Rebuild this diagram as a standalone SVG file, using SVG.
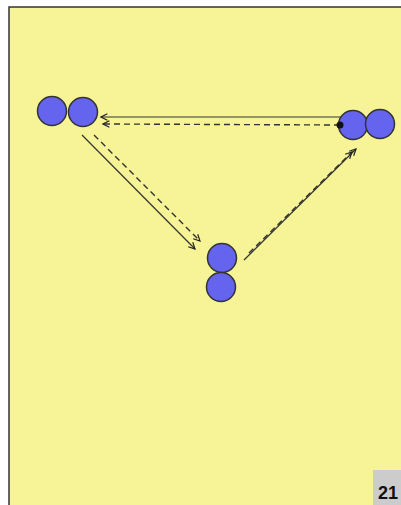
<svg xmlns="http://www.w3.org/2000/svg" width="401" height="505" viewBox="0 0 401 505">
<style>
.p{fill:#6464ee;stroke:#333;stroke-width:1.5}
.s{fill:none;stroke:#333;stroke-width:1.2}
.d{fill:none;stroke:#333;stroke-width:1.4;stroke-dasharray:6 4}
</style>
<defs>
<marker id="a" viewBox="0 0 10 10" refX="9" refY="5" markerWidth="8" markerHeight="8" orient="auto" markerUnits="userSpaceOnUse">
<path d="M1,1 L9,5 L1,9" fill="none" stroke="#222" stroke-width="1.5"/>
</marker>
</defs>
<rect x="0" y="0" width="401" height="505" fill="#fff"/>
<rect x="9" y="7" width="393" height="499" fill="#f7f497" stroke="#333" stroke-width="1.5"/>
<g id="connectors">
<line class="s" x1="344" y1="117" x2="101" y2="117" marker-end="url(#a)"/>
<line class="d" x1="340" y1="125" x2="103" y2="124" marker-end="url(#a)"/>
<line class="s" x1="82" y1="135" x2="195" y2="249" marker-end="url(#a)"/>
<line class="d" x1="94" y1="135" x2="200" y2="241" marker-end="url(#a)"/>
<line class="s" x1="244" y1="260" x2="356" y2="149" marker-end="url(#a)"/>
<line class="d" x1="249" y1="253" x2="352" y2="152" marker-end="url(#a)"/>
</g>
<g id="left-pair">
<circle class="p" cx="52" cy="111" r="14.5"/>
<circle class="p" cx="83" cy="112" r="14.5"/>
</g>
<g id="right-pair">
<circle class="p" cx="353" cy="125" r="14.5"/>
<circle class="p" cx="380" cy="124" r="14.5"/>
<circle cx="340" cy="125" r="3.5" fill="#111"/>
</g>
<g id="bottom-pair">
<circle class="p" cx="222" cy="258" r="14.5"/>
<circle class="p" cx="221" cy="287" r="14.5"/>
</g>
<g id="label">
<rect x="373" y="470" width="28" height="35" fill="#cccccc"/>
<text x="398" y="499" text-anchor="end" font-family="Liberation Sans, Arial, sans-serif" font-weight="bold" font-size="18" fill="#111">21</text>
</g>
</svg>
